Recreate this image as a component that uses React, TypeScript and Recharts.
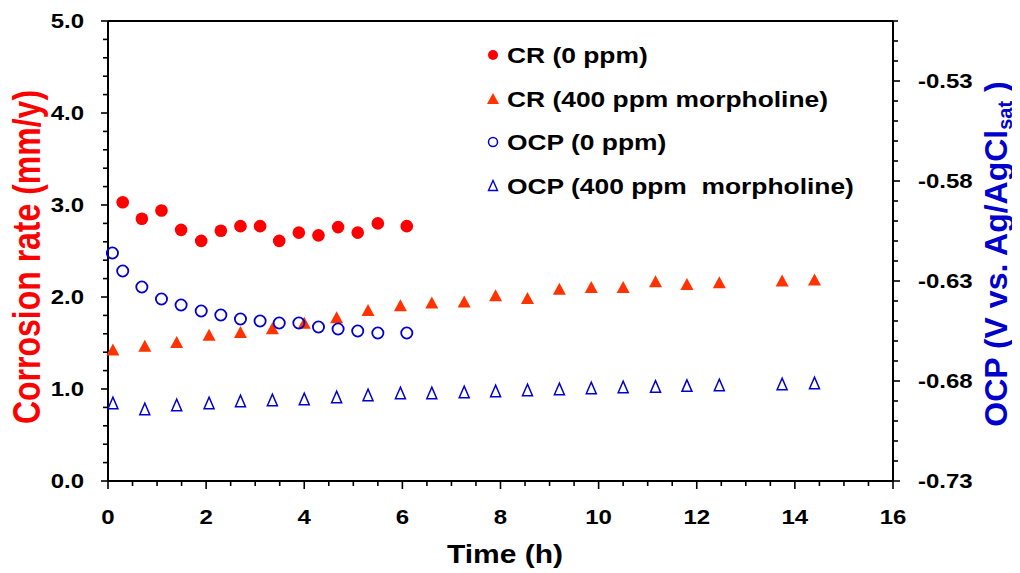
import React from 'react';
import { ScatterChart, Scatter, XAxis, YAxis, ReferenceLine, Legend } from 'recharts';

// ---- Data ----
const timeCR0 = [0.30, 0.69, 1.09, 1.49, 1.90, 2.30, 2.70, 3.10, 3.49, 3.89, 4.29, 4.69, 5.09, 5.50, 6.09];
const cr0 = [3.03, 2.85, 2.94, 2.73, 2.61, 2.72, 2.77, 2.77, 2.61, 2.70, 2.67, 2.76, 2.70, 2.80, 2.77];

const timeOCP0 = [0.09, 0.30, 0.69, 1.09, 1.49, 1.90, 2.30, 2.70, 3.10, 3.49, 3.89, 4.29, 4.69, 5.09, 5.50, 6.09];
const ocp0 = [-0.616, -0.625, -0.633, -0.639, -0.642, -0.645, -0.647, -0.649, -0.650, -0.651, -0.651, -0.653, -0.654, -0.655, -0.656, -0.656];

const time400 = [0.10, 0.75, 1.40, 2.06, 2.70, 3.35, 4.00, 4.66, 5.30, 5.96, 6.60, 7.26, 7.90, 8.55, 9.20, 9.85, 10.50, 11.16, 11.80, 12.46, 13.74, 14.40];
const cr400 = [1.43, 1.47, 1.51, 1.59, 1.62, 1.66, 1.72, 1.78, 1.86, 1.91, 1.94, 1.95, 2.02, 1.99, 2.09, 2.11, 2.11, 2.17, 2.14, 2.16, 2.18, 2.19];
const ocp400 = [-0.691, -0.694, -0.692, -0.691, -0.690, -0.6895, -0.689, -0.688, -0.687, -0.686, -0.686, -0.6855, -0.685, -0.6845, -0.684, -0.6835, -0.683, -0.6827, -0.6823, -0.682, -0.6815, -0.681];

const seriesNames = ['CR (0 ppm)', 'CR (400 ppm morpholine)', 'OCP (0 ppm)', 'OCP (400 ppm  morpholine)'];

const xMajorTicks = [0, 2, 4, 6, 8, 10, 12, 14, 16];
const leftMajorTicks = [0, 1, 2, 3, 4, 5];
const rightMajorTicks = [-0.73, -0.68, -0.63, -0.58, -0.53];

const xTitle = 'Time (h)';
const leftTitle = 'Corrosion rate (mm/y)';
const rightTitleMain = 'OCP (V vs. Ag/AgCl';
const rightTitleSub = 'sat';
const rightTitleEnd = ' )';

// ---- helpers ----
const buildTicks = (min: number, max: number, step: number) => {
  const out: number[] = [];
  const n = Math.round((max - min) / step);
  for (let i = 0; i <= n; i++) out.push(Number((min + i * step).toFixed(4)));
  return out;
};
const xTicks = buildTicks(0, 16, 0.5);
const leftTicks = buildTicks(0, 5, 0.2);
const rightTicks = buildTicks(-0.73, -0.5, 0.01);

const isMajor = (v: number, majors: number[]) => majors.some((m) => Math.abs(m - v) < 1e-6);

const zip = (ts: number[], vs: number[]) => ts.map((t, i) => ({ t, v: vs[i] }));
const dataCR0 = zip(timeCR0, cr0);
const dataCR400 = zip(time400, cr400);
const dataOCP0 = zip(timeOCP0, ocp0);
const dataOCP400 = zip(time400, ocp400);

const FONT = '"Liberation Sans", Arial, Helvetica, sans-serif';
const SX = 1.2;
const RED = '#FF0000';
const ORANGE = '#FF3300';
const BLUE = '#0000CC';

// ---- marker shapes ----
const dot = (cx: number, cy: number, r: number) => <circle cx={cx} cy={cy} r={r} fill={RED} stroke="none" />;
const tri = (cx: number, cy: number, w: number, h: number, fill: string, stroke: string, sw: number) => (
  <polygon
    points={`${cx},${cy - h / 2} ${cx - w / 2},${cy + h / 2} ${cx + w / 2},${cy + h / 2}`}
    fill={fill}
    stroke={stroke}
    strokeWidth={sw}
    strokeLinejoin="miter"
  />
);
const ring = (cx: number, cy: number, r: number, sw: number) => (
  <circle cx={cx} cy={cy} r={r} fill="none" stroke={BLUE} strokeWidth={sw} />
);

const ShapeCR0 = (p: any) => dot(p.cx, p.cy, 6.3);
const ShapeCR400 = (p: any) => tri(p.cx, p.cy, 13, 12, ORANGE, 'none', 0);
const ShapeOCP0 = (p: any) => ring(p.cx, p.cy, 5.6, 1.8);
const ShapeOCP400 = (p: any) => tri(p.cx, p.cy, 10, 11.5, 'none', BLUE, 1.5);

// ---- ticks ----
const txt = (x: number, y: number, anchor: string, size: number, fill: string, s: any) => (
  <text
    transform={`translate(${x},${y}) scale(${SX},1)`}
    textAnchor={anchor as any}
    fontSize={size}
    fontWeight="bold"
    fontFamily={FONT}
    fill={fill}
    style={{ whiteSpace: 'pre' }}
    xmlSpace="preserve"
  >
    {s}
  </text>
);

const BottomTick = (props: any) => {
  const { x, y, payload } = props;
  const v = payload.value;
  const major = isMajor(v, xMajorTicks);
  return (
    <g>
      <line x1={x} x2={x} y1={y} y2={y + (major ? 8 : 5)} stroke="#000" strokeWidth={1.6} />
      {major && txt(x, y + 43, 'middle', 20, '#000', String(v))}
    </g>
  );
};

const LeftTick = (props: any) => {
  const { x, y, payload } = props;
  const v = payload.value;
  const major = isMajor(v, leftMajorTicks);
  return (
    <g>
      <line x1={x} x2={x - (major ? 7 : 5)} y1={y} y2={y} stroke="#000" strokeWidth={1.6} />
      {major && txt(x - 24, y + 7, 'end', 20, '#000', v.toFixed(1))}
    </g>
  );
};

const RightTick = (props: any) => {
  const { x, y, payload } = props;
  const v = payload.value;
  const major = isMajor(v, rightMajorTicks);
  return (
    <g>
      <line x1={x} x2={x + (major ? 7 : 5)} y1={y} y2={y} stroke="#000" strokeWidth={1.6} />
      {major && txt(x + 25, y + 7, 'start', 20, '#000', v.toFixed(2))}
    </g>
  );
};

// ---- axis titles ----
const XTitle = () => txt(505, 563, 'middle', 25, '#000', xTitle);

const LeftTitle = () => (
  <text
    transform={`translate(40,257) scale(${SX},1) rotate(-90)`}
    textAnchor="middle"
    fontSize={32}
    fontWeight="bold"
    fontFamily={FONT}
    fill={RED}
  >
    {leftTitle}
  </text>
);

const RightTitle = () => (
  <text
    transform={`translate(1007,254) rotate(-90)`}
    textAnchor="middle"
    fontSize={32}
    fontWeight="bold"
    fontFamily={FONT}
    fill={BLUE}
    style={{ whiteSpace: 'pre' }}
    xmlSpace="preserve"
  >
    {rightTitleMain}
    <tspan fontSize={20} dy={5}>{rightTitleSub}</tspan>
    <tspan dy={-5}>{rightTitleEnd}</tspan>
  </text>
);

// ---- legend ----
const legendMarkers = [
  (cx: number, cy: number) => dot(cx, cy, 5),
  (cx: number, cy: number) => tri(cx, cy, 12, 11, ORANGE, 'none', 0),
  (cx: number, cy: number) => ring(cx, cy, 4.5, 1.5),
  (cx: number, cy: number) => tri(cx, cy, 9, 10, 'none', BLUE, 1.4),
];

const LegendBox = () => (
  <svg width={400} height={180} style={{ overflow: 'visible' }}>
    {seriesNames.map((name, i) => {
      const cy = 25 + i * 43.5;
      return (
        <g key={name}>
          {legendMarkers[i](13, cy)}
          {txt(27, cy + 8, 'start', 22, '#000', name)}
        </g>
      );
    })}
  </svg>
);

export default function App() {
  return (
    <div style={{ width: 1020, height: 573, margin: '-8px 0 0 -8px' }}>
      <ScatterChart width={1020} height={573} margin={{ top: 21, right: 0, bottom: 0, left: 0 }}>
        <XAxis
          type="number"
          dataKey="t"
          domain={[0, 16]}
          ticks={xTicks}
          interval={0}
          height={92}
          tickSize={0}
          tickMargin={0}
          tickLine={false}
          tick={BottomTick}
          axisLine={{ stroke: '#000', strokeWidth: 2 }}
          label={<XTitle />}
        />
        <YAxis
          yAxisId="left"
          orientation="left"
          type="number"
          dataKey="v"
          domain={[0, 5]}
          ticks={leftTicks}
          interval={0}
          width={108}
          tickSize={0}
          tickMargin={0}
          tickLine={false}
          tick={LeftTick}
          axisLine={{ stroke: '#000', strokeWidth: 2 }}
          label={<LeftTitle />}
        />
        <YAxis
          yAxisId="right"
          orientation="right"
          type="number"
          dataKey="v"
          domain={[-0.73, -0.5]}
          ticks={rightTicks}
          interval={0}
          width={127}
          tickSize={0}
          tickMargin={0}
          tickLine={false}
          tick={RightTick}
          axisLine={{ stroke: '#000', strokeWidth: 2 }}
          label={<RightTitle />}
        />
        <ReferenceLine yAxisId="left" y={5} stroke="#000" strokeWidth={2} />
        <Legend
          layout="vertical"
          align="center"
          verticalAlign="middle"
          wrapperStyle={{ left: 480, top: 30, width: 400, height: 180 }}
          content={() => <LegendBox />}
        />
        <Scatter name={seriesNames[1]} data={dataCR400} yAxisId="left" dataKey="v" shape={ShapeCR400} isAnimationActive={false} />
        <Scatter name={seriesNames[3]} data={dataOCP400} yAxisId="right" dataKey="v" shape={ShapeOCP400} isAnimationActive={false} />
        <Scatter name={seriesNames[2]} data={dataOCP0} yAxisId="right" dataKey="v" shape={ShapeOCP0} isAnimationActive={false} />
        <Scatter name={seriesNames[0]} data={dataCR0} yAxisId="left" dataKey="v" shape={ShapeCR0} isAnimationActive={false} />
      </ScatterChart>
    </div>
  );
}
